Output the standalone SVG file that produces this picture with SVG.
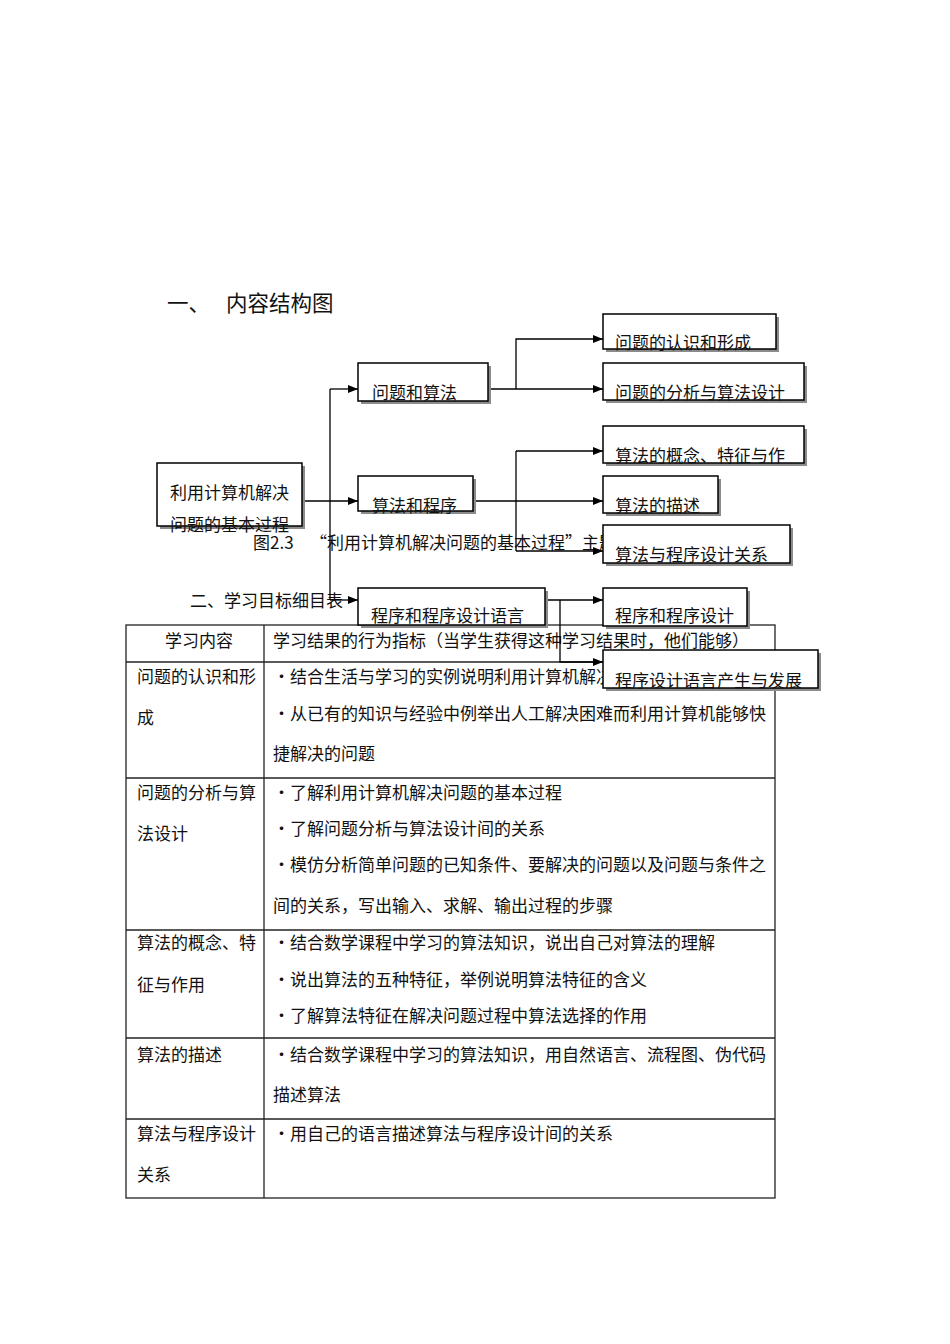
<svg xmlns="http://www.w3.org/2000/svg" width="950" height="1344" viewBox="0 0 950 1344">
<style>
text{font-family:"Noto Sans CJK SC","Liberation Sans",sans-serif;fill:#111;}
.t{font-size:17px;}
.title{font-size:21.5px;}
.box{fill:#fff;stroke:#000;stroke-width:1.5;}
.sh{fill:#8c8c8c;}
.ln{fill:none;stroke:#000;stroke-width:1.3;}
.tb{fill:none;stroke:#222;stroke-width:1.3;}
</style>
<defs>
<marker id="arr" viewBox="0 0 10 8" refX="10" refY="4" markerWidth="10" markerHeight="8" markerUnits="userSpaceOnUse" orient="auto">
<path d="M0,0 L10,4 L0,8 Z" fill="#000"/>
</marker>
</defs>
<rect width="950" height="1344" fill="#fff"/>

<g id="title">
<text class="title" x="167" y="311">一、</text>
<text class="title" x="226" y="311">内容结构图</text>
</g>

<g id="caption">
<text class="t" x="253" y="549">图2.3<tspan x="310">“利用计算机解决问题的基本过程”主题</tspan></text>
</g>

<g id="subtitle">
<text class="t" x="190" y="607">二、学习目标细目表</text>
</g>

<g id="table">
<rect class="tb" x="126" y="625" width="649" height="573"/>
<line class="tb" x1="264" y1="625" x2="264" y2="1198"/>
<line class="tb" x1="126" y1="662" x2="775" y2="662"/>
<line class="tb" x1="126" y1="778" x2="775" y2="778"/>
<line class="tb" x1="126" y1="930" x2="775" y2="930"/>
<line class="tb" x1="126" y1="1038" x2="775" y2="1038"/>
<line class="tb" x1="126" y1="1119" x2="775" y2="1119"/>
<text class="t" x="165" y="647">学习内容</text>
<text class="t" x="273" y="647">学习结果的行为指标（当学生获得这种学习结果时，他们能够）</text>
<text class="t" x="137" y="683">问题的认识和形</text>
<text class="t" x="137" y="724">成</text>
<text class="t" x="273" y="683">•结合生活与学习的实例说明利用计算机解决</text>
<text class="t" x="273" y="720">•从已有的知识与经验中例举出人工解决困难而利用计算机能够快</text>
<text class="t" x="273" y="760">捷解决的问题</text>
<text class="t" x="137" y="799">问题的分析与算</text>
<text class="t" x="137" y="840">法设计</text>
<text class="t" x="273" y="799">•了解利用计算机解决问题的基本过程</text>
<text class="t" x="273" y="835">•了解问题分析与算法设计间的关系</text>
<text class="t" x="273" y="871">•模仿分析简单问题的已知条件、要解决的问题以及问题与条件之</text>
<text class="t" x="273" y="912">间的关系，写出输入、求解、输出过程的步骤</text>
<text class="t" x="137" y="949">算法的概念、特</text>
<text class="t" x="137" y="991">征与作用</text>
<text class="t" x="273" y="949">•结合数学课程中学习的算法知识，说出自己对算法的理解</text>
<text class="t" x="273" y="986">•说出算法的五种特征，举例说明算法特征的含义</text>
<text class="t" x="273" y="1022">•了解算法特征在解决问题过程中算法选择的作用</text>
<text class="t" x="137" y="1061">算法的描述</text>
<text class="t" x="273" y="1061">•结合数学课程中学习的算法知识，用自然语言、流程图、伪代码</text>
<text class="t" x="273" y="1101">描述算法</text>
<text class="t" x="137" y="1140">算法与程序设计</text>
<text class="t" x="137" y="1181">关系</text>
<text class="t" x="273" y="1140">•用自己的语言描述算法与程序设计间的关系</text>
</g>

<g id="connectors">
<line class="ln" x1="302" y1="501" x2="358" y2="501" marker-end="url(#arr)"/>
<line class="ln" x1="330" y1="389" x2="330" y2="600"/>
<line class="ln" x1="330" y1="389" x2="358" y2="389" marker-end="url(#arr)"/>
<line class="ln" x1="330" y1="600" x2="358" y2="600" marker-end="url(#arr)"/>
<line class="ln" x1="488" y1="389" x2="603" y2="389" marker-end="url(#arr)"/>
<polyline class="ln" points="516,389 516,339 603,339" marker-end="url(#arr)"/>
<line class="ln" x1="473" y1="501" x2="603" y2="501" marker-end="url(#arr)"/>
<line class="ln" x1="516" y1="451" x2="516" y2="551"/>
<line class="ln" x1="516" y1="451" x2="603" y2="451" marker-end="url(#arr)"/>
<line class="ln" x1="516" y1="551" x2="603" y2="551" marker-end="url(#arr)"/>
<line class="ln" x1="545" y1="600" x2="603" y2="600" marker-end="url(#arr)"/>
<polyline class="ln" points="560,600 560,662 603,662" marker-end="url(#arr)"/>
</g>

<g id="root">
<rect class="sh" x="160" y="466" width="145" height="63"/>
<rect class="box" x="157" y="463" width="145" height="63"/>
<text class="t" x="170" y="499">利用计算机解决</text>
<text class="t" x="170" y="531">问题的基本过程</text>
</g>
<g id="n-wtsf">
<rect class="sh" x="361" y="366" width="130" height="38"/>
<rect class="box" x="358" y="363" width="130" height="38"/>
<text class="t" x="372" y="399">问题和算法</text>
</g>
<g id="n-sfcx">
<rect class="sh" x="361" y="479" width="115" height="35"/>
<rect class="box" x="358" y="476" width="115" height="35"/>
<text class="t" x="372" y="512">算法和程序</text>
</g>
<g id="n-cxyy">
<rect class="sh" x="361" y="591" width="187" height="37"/>
<rect class="box" x="358" y="588" width="187" height="37"/>
<text class="t" x="371" y="622">程序和程序设计语言</text>
</g>
<g id="n-c1">
<rect class="sh" x="606" y="317" width="173" height="35"/>
<rect class="box" x="603" y="314" width="173" height="35"/>
<text class="t" x="615" y="349">问题的认识和形成</text>
</g>
<g id="n-c2">
<rect class="sh" x="606" y="366" width="201" height="37"/>
<rect class="box" x="603" y="363" width="201" height="37"/>
<text class="t" x="615" y="399">问题的分析与算法设计</text>
</g>
<g id="n-c3">
<rect class="sh" x="606" y="429" width="201" height="37"/>
<rect class="box" x="603" y="426" width="201" height="37"/>
<text class="t" x="615" y="462">算法的概念、特征与作</text>
</g>
<g id="n-c4">
<rect class="sh" x="606" y="479" width="115" height="37"/>
<rect class="box" x="603" y="476" width="115" height="37"/>
<text class="t" x="615" y="512">算法的描述</text>
</g>
<g id="n-c5">
<rect class="sh" x="606" y="528" width="187" height="38"/>
<rect class="box" x="603" y="525" width="187" height="38"/>
<text class="t" x="615" y="561">算法与程序设计关系</text>
</g>
<g id="n-c6">
<rect class="sh" x="606" y="591" width="144" height="38"/>
<rect class="box" x="603" y="588" width="144" height="38"/>
<text class="t" x="615" y="622">程序和程序设计</text>
</g>
<g id="n-c7">
<rect class="sh" x="606" y="653" width="215" height="38"/>
<rect class="box" x="603" y="650" width="215" height="38"/>
<text class="t" x="615" y="687">程序设计语言产生与发展</text>
</g>
</svg>
